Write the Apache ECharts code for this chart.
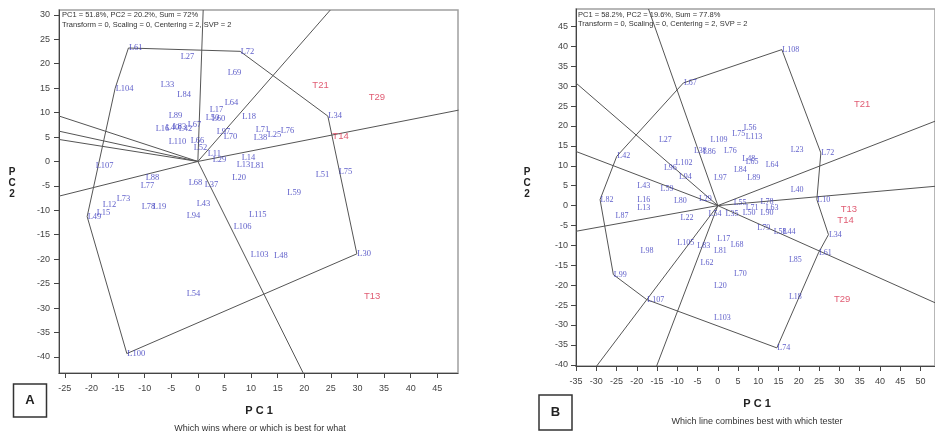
<!DOCTYPE html>
<html><head><meta charset="utf-8">
<script src="https://cdn.jsdelivr.net/npm/echarts@6/dist/echarts.min.js"></script>
<style>html,body{margin:0;padding:0;background:#fff}#c{width:935px;height:437px}</style>
</head><body><div id="c"></div>
<script>
// ---------- tick labels ----------
const ticksAx = [-25,-20,-15,-10,-5,0,5,10,15,20,25,30,35,40,45];
const ticksAy = [-40,-35,-30,-25,-20,-15,-10,-5,0,5,10,15,20,25,30];
const ticksBx = [-35,-30,-25,-20,-15,-10,-5,0,5,10,15,20,25,30,35,40,45,50];
const ticksBy = [-40,-35,-30,-25,-20,-15,-10,-5,0,5,10,15,20,25,30,35,40,45];

// ---------- panel A : lines (genotypes) ----------
const linesA = ['L61','L27','L72','L69','L104','L33','L84','L64','L17','L50','L60','L18','L89','L16','L40','L83','L42','L67','L110','L66','L52','L11','L97','L70','L71','L38','L25','L76','L34','L75','L51','L59','L20','L14','L13','L81','L29','L107','L88','L77','L68','L37','L73','L12','L49','L15','L78','L19','L43','L94','L115','L106','L103','L48','L54','L100','L30'];
const linesAx = [-13.05,-3.33,7.95,5.51,-15.55,-7.09,-3.95,4.94,2.12,1.37,2.5,8.27,-5.58,-8.03,-6.15,-4.83,-3.7,-2.01,-5.58,-1.45,-0.88,1.75,3.44,4.76,10.77,10.39,13.03,15.47,24.44,26.37,22.05,16.73,6.39,8.14,7.2,9.83,2.69,-19.3,-9.91,-10.85,-1.82,1.18,-15.36,-17.99,-20.81,-19.12,-10.66,-8.59,-0.32,-2.2,9.51,6.64,9.83,14.21,-2.2,-13.35,29.89];
const linesAy = [23.22,21.44,22.54,18.21,14.97,15.67,13.73,12.02,10.58,8.93,8.72,9.24,9.44,6.72,6.87,7.07,6.66,7.55,3.98,4.19,2.74,1.51,6.04,5.01,6.45,4.8,5.42,6.25,9.28,-2.21,-2.76,-6.33,-3.44,0.68,-0.76,-0.97,0.27,-0.82,-3.24,-4.89,-4.27,-4.68,-7.71,-8.8,-11.28,-10.45,-9.22,-9.22,-8.7,-11.13,-11.01,-13.4,-19.11,-19.26,-27.15,-39.32,-18.91];
// panel A : testers
const testersA = ['T21','T29','T14','T13'];
const testersAx = [21.43,32.01,25.19,31.13];
const testersAy = [15.67,13.05,5.15,-27.63];
// panel A : polygon vertices and ray ends
const polygonA = ['L61','L72','L34','L30','L100','L49','L104'];
const raysAx = [1.0,24.9,49,19.8,-26.1,-26.1,-26.1,-26.1];
const raysAy = [31,31,10.5,-43.3,-7.1,9.3,6.2,4.5];

// ---------- panel B : lines ----------
const linesB = ['L27','L109','L56','L75','L113','L38','L86','L76','L48','L65','L64','L84','L89','L97','L23','L40','L10','L102','L96','L94','L43','L59','L82','L16','L13','L80','L29','L87','L22','L55','L78','L71','L63','L54','L35','L50','L90','L79','L58','L44','L17','L68','L81','L105','L83','L62','L70','L20','L85','L18','L103','L74','L61','L34','L72','L108','L67','L42','L99','L107','L98'];
const linesBx = [-14.65,-1.9,6.25,3.46,6.74,-6.02,-3.8,1.38,5.93,6.74,11.68,3.85,7.16,-1.09,17.85,17.85,24.44,-10.54,-13.43,-9.73,-20,-14.25,-29.06,-20,-20,-10.96,-4.79,-25.36,-9.31,3.78,10.44,6.74,11.68,-2.4,1.8,6.0,10.44,9.63,13.65,15.88,-0.25,3.04,-1.09,-10.12,-5.19,-4.37,3.85,-1.09,17.43,17.43,-1.09,14.57,24.84,27.31,25.43,15.8,-8.49,-24.94,-25.78,-17.53,-19.19];
const linesBy = [16.4,16.4,19.52,18.09,17.34,13.64,13.5,13.64,11.73,10.88,10.3,8.87,6.96,6.96,13.9,4.02,1.51,10.73,9.47,7.21,4.85,4.2,1.51,1.51,-0.58,1.08,1.68,-2.69,-3.09,0.75,1.0,-0.5,-0.5,-2.0,-2.0,-1.76,-1.76,-5.6,-6.53,-6.71,-8.37,-9.8,-11.48,-9.37,-10.23,-14.4,-17.09,-20.1,-13.74,-22.94,-28.22,-35.75,-11.88,-7.29,13.24,39.2,30.83,12.39,-17.34,-23.62,-11.31];
const testersB = ['T21','T13','T14','T29'];
const testersBx = [33.48,30.2,29.38,28.54];
const testersBy = [25.38,-0.83,-3.69,-23.62];
const polygonB = ['L108','L67','L42','L82','L99','L107','L74','L61','L34','L10','L72'];
const raysBx = [-17.1,-35,-35,-35,-29.9,-15.1,53.6,53.6,53.6];
const raysBy = [49.4,30.8,13.6,-6.45,-40.3,-40.3,-24.4,4.85,21.2];

// ---------- texts ----------
const headerA = ['PC1 = 51.8%, PC2 = 20.2%, Sum = 72%','Transform = 0, Scaling = 0, Centering = 2, SVP = 2'];
const headerB = ['PC1 = 58.2%, PC2 = 19.6%, Sum = 77.8%','Transform = 0, Scaling = 0, Centering = 2, SVP = 2'];
const captionA = 'Which wins where or which is best for what';
const captionB = 'Which line combines best with which tester';

// ---------- build ----------
const chart = echarts.init(document.getElementById('c'));
const LCOL = '#3434bc', TCOL = '#d8324f', GCOL = '#555';
function pts(names, xs, ys){ return names.map((n,i)=>({name:n, value:[xs[i],ys[i]]})); }
function poly(vnames, names, xs, ys){
  const c = vnames.map(v=>{const i=names.indexOf(v); return [xs[i],ys[i]];});
  c.push(c[0]); return c;
}
function rays(xs, ys){ return xs.map((x,i)=>({coords:[[0,0],[x,ys[i]]]})); }
function xAx(gi,min,max,ticks){
  return {type:'value',gridIndex:gi,min:min,max:max,
    axisLine:{show:true,onZero:false,lineStyle:{color:'#444',width:1}},
    axisTick:{show:true,length:5,customValues:ticks,lineStyle:{color:'#444'}},
    axisLabel:{customValues:ticks,fontSize:9,color:'#444',margin:11,fontFamily:'Liberation Sans'},
    splitLine:{show:false}};
}
function yAx(gi,min,max,ticks,margin){
  return {type:'value',gridIndex:gi,min:min,max:max,
    axisLine:{show:true,onZero:false,lineStyle:{color:'#444',width:1}},
    axisTick:{show:true,length:5,customValues:ticks,lineStyle:{color:'#444'}},
    axisLabel:{customValues:ticks,fontSize:9,color:'#444',margin:margin,fontFamily:'Liberation Sans'},
    splitLine:{show:false}};
}
function scat(gi,data,color,size,family){
  return {type:'scatter',xAxisIndex:gi,yAxisIndex:gi,data:data,symbolSize:1,
    itemStyle:{color:'rgba(0,0,0,0)'},silent:true,z:5,
    label:{show:true,position:'right',distance:0,formatter:p=>p.name,color:color,fontSize:size,fontFamily:family}};
}
function polyS(gi,coords){
  return {type:'line',xAxisIndex:gi,yAxisIndex:gi,data:coords,symbol:'none',silent:true,
    lineStyle:{color:GCOL,width:1},z:2,animation:false};
}
function rayS(gi,data){
  return {type:'lines',coordinateSystem:'cartesian2d',xAxisIndex:gi,yAxisIndex:gi,data:data,silent:true,
    lineStyle:{color:GCOL,width:1,opacity:1},z:2,animation:false};
}
function txt(x,y,t,font,color,align){
  return {type:'text',x:x,y:y,style:{text:t,font:font,fill:color||'#222',textAlign:align||'left',textVerticalAlign:'middle'}};
}

const option = {
  animation:false,
  grid:[
    {left:59,top:10,width:399,height:363,show:true,borderColor:'#a0a0a0',borderWidth:1.5,backgroundColor:'#fff'},
    {left:576,top:9,width:359,height:357,show:true,borderColor:'#a0a0a0',borderWidth:1.5,backgroundColor:'#fff'}
  ],
  xAxis:[xAx(0,-26.1,48.9,ticksAx), xAx(1,-35,53.6,ticksBx)],
  yAxis:[yAx(0,-43.3,31,ticksAy,9), yAx(1,-40.3,49.4,ticksBy,8)],
  series:[
    rayS(0,rays(raysAx,raysAy)),
    polyS(0,poly(polygonA,linesA,linesAx,linesAy)),
    scat(0,pts(linesA,linesAx,linesAy),LCOL,8.5,'Liberation Serif'),
    scat(0,pts(testersA,testersAx,testersAy),TCOL,9.5,'Liberation Sans'),
    rayS(1,rays(raysBx,raysBy)),
    polyS(1,poly(polygonB,linesB,linesBx,linesBy)),
    scat(1,pts(linesB,linesBx,linesBy),LCOL,8,'Liberation Serif'),
    scat(1,pts(testersB,testersBx,testersBy),TCOL,9.5,'Liberation Sans')
  ],
  graphic:[
    txt(62,15,headerA[0],'7.5px Liberation Sans','#333'),
    txt(62,24.5,headerA[1],'7.5px Liberation Sans','#333'),
    txt(578,14.5,headerB[0],'7.5px Liberation Sans','#333'),
    txt(578,23.5,headerB[1],'7.5px Liberation Sans','#333'),
    {type:'text',x:12,y:183,style:{text:'P\nC\n2',font:'bold 10px Liberation Sans',fill:'#222',textAlign:'center',textVerticalAlign:'middle',lineHeight:11}},
    {type:'text',x:527,y:183,style:{text:'P\nC\n2',font:'bold 10px Liberation Sans',fill:'#222',textAlign:'center',textVerticalAlign:'middle',lineHeight:11}},
    txt(259,411,'P C 1','bold 11px Liberation Sans','#222','center'),
    txt(757,404,'P C 1','bold 11px Liberation Sans','#222','center'),
    txt(260,429,captionA,'9px Liberation Sans','#333','center'),
    txt(757,422,captionB,'9px Liberation Sans','#333','center'),
    {type:'rect',shape:{x:13.5,y:384,width:33,height:33},style:{fill:'none',stroke:'#333',lineWidth:1.5}},
    txt(30,400.5,'A','bold 13px Liberation Sans','#222','center'),
    {type:'rect',shape:{x:539,y:395,width:33,height:35},style:{fill:'none',stroke:'#333',lineWidth:1.5}},
    txt(555.5,412.5,'B','bold 13px Liberation Sans','#222','center')
  ]
};
chart.setOption(option);
</script></body></html>
